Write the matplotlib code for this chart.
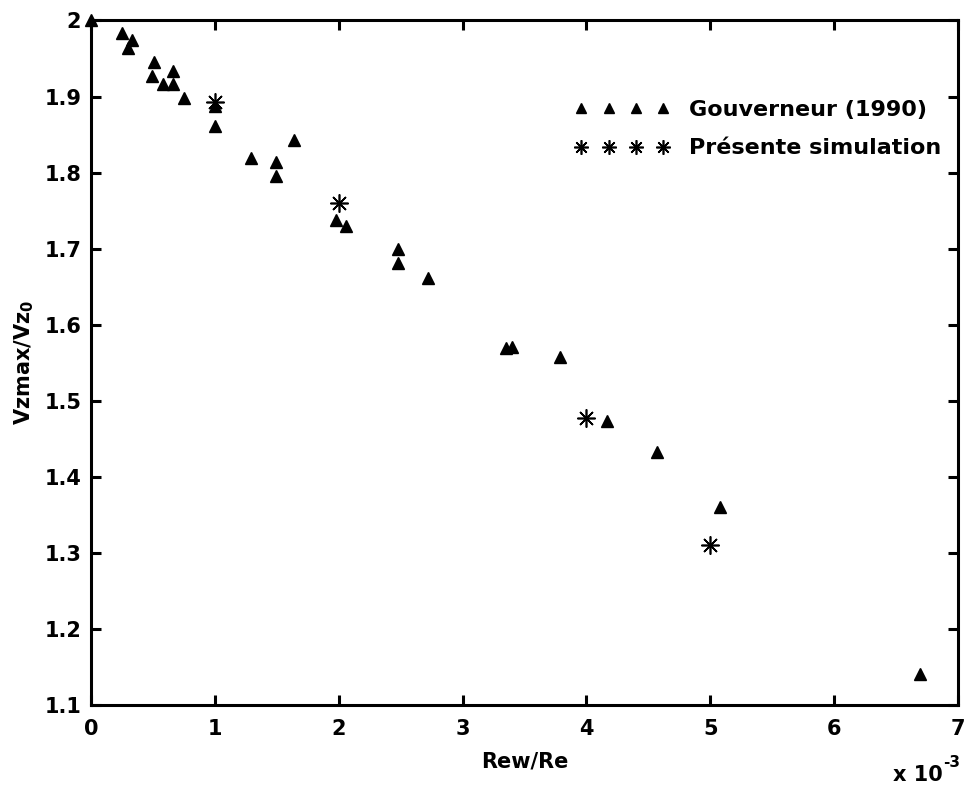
import matplotlib
matplotlib.use("Agg")
import matplotlib.pyplot as plt

# Gouverneur (1990) data, Rew/Re in units of 1e-3
gouv_x = [0.0, 0.25, 0.33, 0.30, 0.51, 0.49, 0.58, 0.66, 0.66, 0.75,
          1.00, 1.00, 1.29, 1.49, 1.49, 1.64, 1.98, 2.06, 2.48, 2.48,
          2.72, 3.35, 3.40, 3.79, 4.17, 4.57, 5.08, 6.69]
gouv_y = [2.000, 1.984, 1.974, 1.964, 1.946, 1.927, 1.917, 1.934, 1.917, 1.898,
          1.887, 1.861, 1.819, 1.814, 1.795, 1.843, 1.738, 1.730, 1.700, 1.681,
          1.661, 1.569, 1.571, 1.557, 1.474, 1.433, 1.360, 1.141]

# present simulation
sim_x = [1.0, 2.0, 4.0, 5.0]
sim_y = [1.893, 1.760, 1.477, 1.311]

xticks = [0, 1, 2, 3, 4, 5, 6, 7]
yticks = [1.1, 1.2, 1.3, 1.4, 1.5, 1.6, 1.7, 1.8, 1.9, 2.0]
ytick_labels = ['1.1', '1.2', '1.3', '1.4', '1.5', '1.6', '1.7', '1.8', '1.9', '2']

plt.rcParams['font.family'] = ['DejaVu Sans']
plt.rcParams['font.weight'] = 'bold'

fig = plt.figure(figsize=(9.65, 7.87), dpi=100)
ax = fig.add_axes([0.0943, 0.1042, 0.8984, 0.8698])

ax.plot(gouv_x, gouv_y, linestyle='none', marker='^', markersize=9,
        color='black', clip_on=False, label='Gouverneur (1990)')
ax.plot(sim_x, sim_y, linestyle='none', marker=(8, 2, 0), markersize=13,
        markeredgewidth=1.2, color='black', clip_on=False,
        label='Présente simulation')

ax.set_xlim(0, 7)
ax.set_ylim(1.1, 2.0)
ax.set_xticks(xticks)
ax.set_yticks(yticks)
ax.set_yticklabels(ytick_labels)

for s in ax.spines.values():
    s.set_linewidth(2.2)
ax.tick_params(direction='in', length=7, width=2.2, top=True, right=True,
               labelsize=15)
ax.tick_params(axis='x', pad=10)
ax.tick_params(axis='y', pad=7)

ax.set_xlabel('Rew/Re', fontsize=15, fontweight='bold', labelpad=9)
ax.set_ylabel(r'Vzmax/Vz$_\mathbf{0}$', fontsize=15, fontweight='bold', labelpad=6)

# exponent of the x axis, written like the original (plain hyphen)
fig.text(0.925, 0.003, 'x 10', fontsize=15, fontweight='bold',
         ha='left', va='bottom')
fig.text(0.977, 0.022, '-3', fontsize=11, fontweight='bold',
         ha='left', va='bottom')

leg = ax.legend(loc='upper right', bbox_to_anchor=(0.996, 0.904), numpoints=4,
                frameon=False, fontsize=16, handlelength=4.3, handletextpad=0.85,
                labelspacing=0.85, markerscale=0.8, borderaxespad=0.2)

fig.savefig('out.png', dpi=100)
